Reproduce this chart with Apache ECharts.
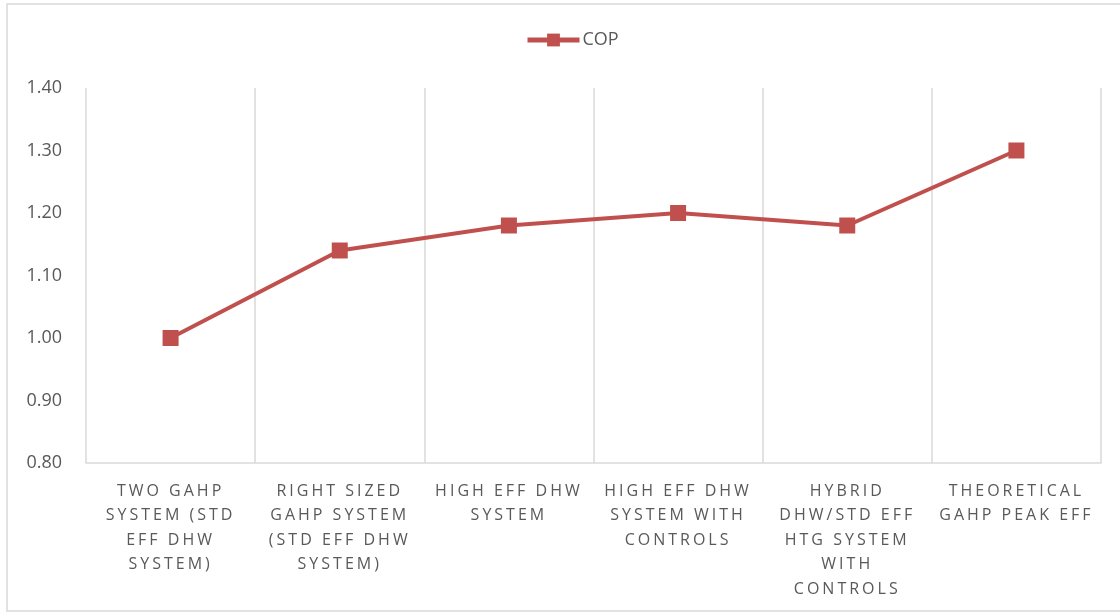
<!DOCTYPE html>
<html>
<head>
<meta charset="utf-8">
<script src="https://cdn.jsdelivr.net/npm/echarts@6/dist/echarts.min.js"></script>
<style>
html,body{margin:0;padding:0;background:#fff;}
#chart{width:1120px;height:613px;}
</style>
</head>
<body>
<div id="chart"></div>
<script>
const categories = [
  "TWO GAHP\nSYSTEM (STD\nEFF DHW\nSYSTEM)",
  "RIGHT SIZED\nGAHP SYSTEM\n(STD EFF DHW\nSYSTEM)",
  "HIGH EFF DHW\nSYSTEM",
  "HIGH EFF DHW\nSYSTEM WITH\nCONTROLS",
  "HYBRID\nDHW/STD EFF\nHTG SYSTEM\nWITH\nCONTROLS",
  "THEORETICAL\nGAHP PEAK EFF"
];
const seriesName = "COP";
const copValues = [1.00, 1.14, 1.18, 1.20, 1.18, 1.30];
const yMin = 0.8, yMax = 1.4, yStep = 0.1;

// Tracked (letter-spaced) category labels: apply canvas letterSpacing to 16px text only
(function(){
  const proto = CanvasRenderingContext2D.prototype;
  const orig = proto.fillText;
  proto.fillText = function(){
    const prev = this.letterSpacing;
    if ('letterSpacing' in this) {
      this.letterSpacing = /(^|\s)16px/.test(this.font) ? '3px' : '0px';
    }
    const r = orig.apply(this, arguments);
    if ('letterSpacing' in this) this.letterSpacing = prev;
    return r;
  };
})();

const chart = echarts.init(document.getElementById('chart'), null, {renderer: 'canvas'});
const font = 'Open Sans';
chart.setOption({
  animation: false,
  backgroundColor: '#fff',
  graphic: [{
    type: 'rect',
    shape: {x: 7, y: 4, width: 1125, height: 607},
    style: {fill: 'none', stroke: '#d9d9d9', lineWidth: 1.5},
    silent: true
  }],
  legend: {
    data: [seriesName],
    top: 31,
    left: 525,
    padding: 0,
    itemWidth: 52,
    itemHeight: 16,
    itemGap: 4,
    lineStyle: {width: 5},
    textStyle: {fontFamily: font, fontSize: 18, color: '#595959', padding: [0, 0, 0, -2]}
  },
  grid: {left: 86, right: 19, top: 88, bottom: 150, containLabel: false},
  xAxis: {
    type: 'category',
    data: categories,
    boundaryGap: true,
    axisLine: {show: true, lineStyle: {color: '#d9d9d9', width: 1.5}},
    axisTick: {show: false},
    splitLine: {show: true, lineStyle: {color: '#d9d9d9', width: 1.5}},
    axisLabel: {
      interval: 0,
      margin: 16,
      fontFamily: font,
      fontSize: 16,
      lineHeight: 24.5,
      color: '#595959',
      align: 'center'
    }
  },
  yAxis: {
    type: 'value',
    min: yMin,
    max: yMax,
    interval: yStep,
    axisLine: {show: false},
    axisTick: {show: false},
    splitLine: {show: false},
    axisLabel: {
      margin: 24,
      fontFamily: font,
      fontSize: 18,
      color: '#595959',
      formatter: v => v.toFixed(2)
    }
  },
  series: [{
    name: seriesName,
    type: 'line',
    data: copValues,
    symbol: 'rect',
    symbolSize: 16,
    itemStyle: {color: '#C0504D'},
    lineStyle: {color: '#C0504D', width: 4}
  }]
});
</script>
</body>
</html>
